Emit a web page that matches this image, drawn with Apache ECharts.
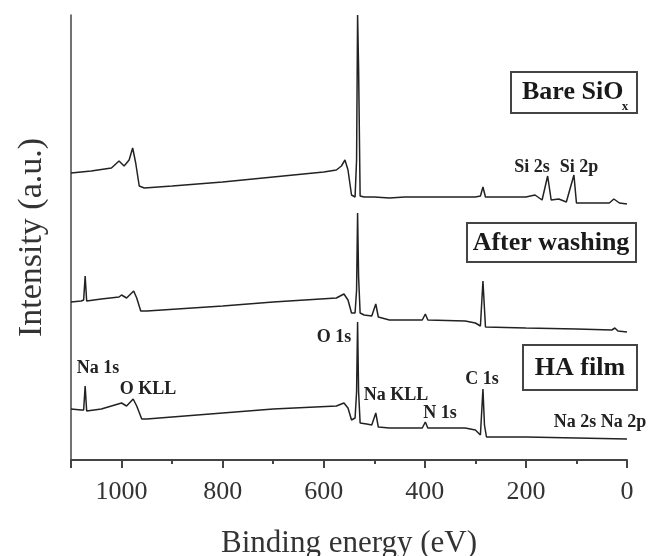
<!DOCTYPE html>
<html>
<head>
<meta charset="utf-8">
<script src="https://cdn.jsdelivr.net/npm/echarts@6/dist/echarts.min.js"></script>
<style>html,body{margin:0;padding:0;background:#fff}#c{width:651px;height:556px}</style>
</head>
<body>
<div id="c"></div>
<script>
// Binding energy (eV) and offset intensity (a.u.) for each spectrum
const bareEnergy = [1100,1060,1020,1005,995,985,978,972,965,955,900,800,700,600,575,565,558,552,545,538,535,533,531,528,520,500,470,440,400,350,300,290,285,280,250,200,182,168,157,150,135,120,105,100,60,35,26,15,0];
const bareValue  = [287,289,292,299,294,300,312,297,274,272,274,278,283,288,290,294,300,290,265,263,300,445,392,264,263,263,262,263,263,263,263,264,273,263,263,263,265,260,284,260,261,258,285,257,257,257,261,257,256];

const washEnergy = [1100,1080,1075,1072,1069,1040,1005,1000,990,976,970,962,950,800,700,575,560,552,545,538,535,533,531,528,520,505,497,492,470,405,399,394,320,300,290,285,280,200,100,30,24,18,0];
const washValue  = [158,159,160,184,159,161,163,165,162,169,162,149,149,154,158,162,166,160,147,147,170,247,183,147,145,144,156,143,140,140,146,140,139,137,134,179,133,132,131,130,132,129,128];

const haEnergy = [1100,1080,1075,1072,1069,1040,1000,990,977,970,960,950,800,700,575,560,552,545,538,535,533,531,528,515,505,497,492,470,405,399,394,320,300,290,285,282,278,200,100,0];
const haValue  = [51,50,50,74,49,51,57,54,61,54,41,41,47,51,54,57,52,40,42,68,138,68,37,36,35,47,33,32,32,38,32,32,30,25,71,35,23,23,22,21];

const xTickLabels = [0,200,400,600,800,1000];
const sampleNames = ['Bare SiO', 'After washing', 'HA film'];
const peakNames = ['Si 2s','Si 2p','O 1s','Na 1s','O KLL','Na KLL','N 1s','C 1s','Na 2s Na 2p'];

function pairs(xs, ys){ return xs.map((x,i)=>[x, ys[i]]); }

const serif = '"Liberation Serif", "Times New Roman", serif';
const lineColor = '#222';

function peakText(t, x, y){
  return {type:'text', x:x, y:y, style:{text:t, fontFamily:serif, fontWeight:'bold', fontSize:18, fill:'#222', align:'center', verticalAlign:'middle'}};
}
function boxRect(x,y,w,h){
  return {type:'rect', shape:{x:x,y:y,width:w,height:h}, style:{fill:'#fff', stroke:'#444', lineWidth:2}};
}
function boxText(t,x,y,align){
  return {type:'text', x:x, y:y, style:{text:t, fontFamily:serif, fontWeight:'bold', fontSize:26, fill:'#1a1a1a', align:align||'center', verticalAlign:'middle'}};
}

const chart = echarts.init(document.getElementById('c'));
chart.setOption({
  animation:false,
  backgroundColor:'#fff',
  grid:{left:71, right:24, top:15, bottom:96, containLabel:false, outerBoundsMode:'none'},
  xAxis:{
    type:'value', inverse:true, min:0, max:1100, interval:200,
    name:'Binding energy (eV)', nameLocation:'middle', nameGap:68,
    nameTextStyle:{fontFamily:serif, fontSize:31, color:'#333'},
    axisLine:{show:true, onZero:false, lineStyle:{color:'#444', width:2}},
    axisTick:{show:true, length:8, lineStyle:{color:'#444', width:2}},
    minorTick:{show:true, splitNumber:2, length:4, lineStyle:{color:'#444', width:2}},
    axisLabel:{fontFamily:serif, fontSize:26, color:'#333', margin:19,
      formatter:function(v){ return xTickLabels.indexOf(v) >= 0 ? String(v) : ''; }},
    splitLine:{show:false}
  },
  yAxis:{
    type:'value', min:0, max:445, position:'left',
    name:'Intensity (a.u.)', nameLocation:'middle', nameGap:22, nameRotate:90,
    nameTextStyle:{fontFamily:serif, fontSize:34, color:'#333'},
    axisLine:{show:true, onZero:false, lineStyle:{color:'#444', width:1.5}},
    axisTick:{show:false}, axisLabel:{show:false}, splitLine:{show:false}
  },
  series:[
    {type:'line', name:sampleNames[0], data:pairs(bareEnergy,bareValue), symbol:'none', lineStyle:{color:lineColor, width:1.5}},
    {type:'line', name:sampleNames[1], data:pairs(washEnergy,washValue), symbol:'none', lineStyle:{color:lineColor, width:1.5}},
    {type:'line', name:sampleNames[2], data:pairs(haEnergy,haValue), symbol:'none', lineStyle:{color:lineColor, width:1.5}}
  ],
  graphic:[
    boxRect(511,72,126,41),
    boxText(sampleNames[0],522,92,'left'),
    {type:'text', x:625, y:107, style:{text:'x', fontFamily:serif, fontWeight:'bold', fontSize:13, fill:'#1a1a1a', align:'center', verticalAlign:'middle'}},
    boxRect(467,223,169,39),
    boxText(sampleNames[1],551,243),
    boxRect(523,345,114,45),
    boxText(sampleNames[2],580,368),
    peakText(peakNames[0],532,167),
    peakText(peakNames[1],579,167),
    peakText(peakNames[2],334,337),
    peakText(peakNames[3],98,368),
    peakText(peakNames[4],148,389),
    peakText(peakNames[5],396,395),
    peakText(peakNames[6],440,413),
    peakText(peakNames[7],482,379),
    peakText(peakNames[8],600,422)
  ]
});
</script>
</body>
</html>
